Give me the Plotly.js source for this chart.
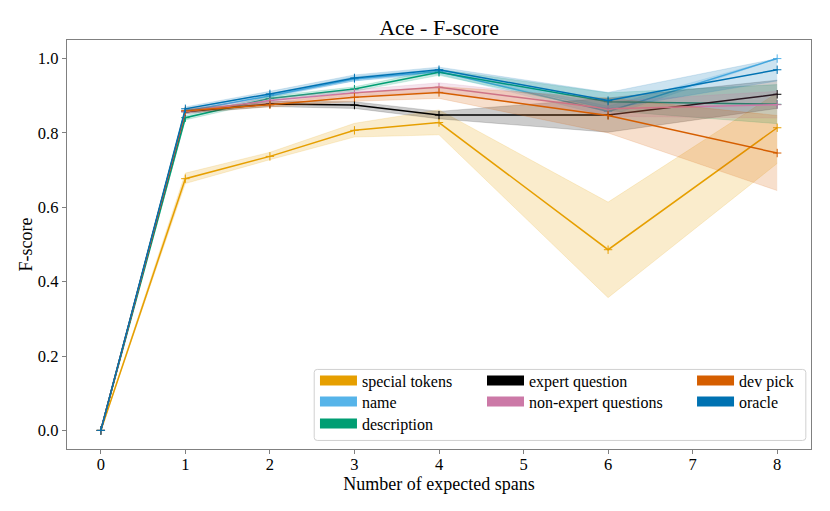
<!DOCTYPE html>
<html>
<head>
<meta charset="utf-8">
<script src="https://cdn.plot.ly/plotly-3.0.1.min.js"></script>
<style>html,body{margin:0;padding:0;background:#fff}#chart{width:830px;height:511px}</style>
</head>
<body>
<div id="chart"></div>
<script>
// ---- data ----
const spans = [0, 1, 2, 3, 4, 6, 8];
const xTicks = [0, 1, 2, 3, 4, 5, 6, 7, 8];

const specialMean = [0, 0.677, 0.737, 0.807, 0.828, 0.486, 0.814];
const specialLo   = [0, 0.664, 0.728, 0.789, 0.795, 0.357, 0.718];
const specialHi   = [0, 0.692, 0.748, 0.826, 0.862, 0.614, 0.908];

const nameMean = [0, 0.858, 0.900, 0.945, 0.965, 0.858, 1.000];
const nameLo   = [0, 0.850, 0.895, 0.940, 0.958, 0.845, 1.000];
const nameHi   = [0, 0.866, 0.905, 0.952, 0.972, 0.872, 1.000];

const descMean = [0, 0.841, 0.893, 0.918, 0.963, 0.884, 0.877];
const descLo   = [0, 0.835, 0.887, 0.912, 0.955, 0.860, 0.825];
const descHi   = [0, 0.847, 0.899, 0.924, 0.971, 0.908, 0.930];

const expertMean = [0, 0.857, 0.878, 0.875, 0.848, 0.848, 0.904];
const expertLo   = [0, 0.852, 0.871, 0.866, 0.838, 0.802, 0.866];
const expertHi   = [0, 0.862, 0.885, 0.884, 0.858, 0.894, 0.942];

const nonExpMean = [0, 0.858, 0.887, 0.908, 0.923, 0.865, 0.876];
const nonExpLo   = [0, 0.852, 0.880, 0.900, 0.911, 0.845, 0.840];
const nonExpHi   = [0, 0.864, 0.894, 0.916, 0.935, 0.885, 0.912];

const devMean = [0, 0.860, 0.876, 0.896, 0.909, 0.847, 0.746];
const devLo   = [0, 0.855, 0.870, 0.885, 0.893, 0.800, 0.645];
const devHi   = [0, 0.865, 0.882, 0.907, 0.925, 0.894, 0.847];

const oracleMean = [0, 0.865, 0.905, 0.948, 0.970, 0.887, 0.970];
const oracleLo   = [0, 0.860, 0.898, 0.940, 0.963, 0.865, 0.940];
const oracleHi   = [0, 0.870, 0.912, 0.956, 0.977, 0.909, 1.000];

const seriesNames = ["special tokens", "name", "description", "expert question", "non-expert questions", "dev pick", "oracle"];
const seriesColors = ["#E69F00", "#56B4E9", "#009E73", "#000000", "#CC79A7", "#D55E00", "#0072B2"];
const seriesRGB = ["230,159,0", "86,180,233", "0,158,115", "0,0,0", "204,121,167", "213,94,0", "0,114,178"];

const means = [specialMean, nameMean, descMean, expertMean, nonExpMean, devMean, oracleMean];
const los = [specialLo, nameLo, descLo, expertLo, nonExpLo, devLo, oracleLo];
const his = [specialHi, nameHi, descHi, expertHi, nonExpHi, devHi, oracleHi];

// legend grid: column-major, 3 rows
const legendCol = [0, 0, 0, 1, 1, 2, 2];
const legendRow = [0, 1, 2, 0, 1, 0, 1];
const legendColX = [0.3333, 0.5578, 0.8401];
const legendRowY = [0.2085, 0.1572, 0.1034];

const traces = [];
for (let i = 0; i < seriesNames.length; i++) {
  traces.push({
    x: spans, y: his[i], mode: "lines", line: {width: 0.6, color: "rgba(" + seriesRGB[i] + ",0.25)"},
    showlegend: false, hoverinfo: "skip"
  });
  traces.push({
    x: spans, y: los[i], mode: "lines", line: {width: 0.6, color: "rgba(" + seriesRGB[i] + ",0.25)"},
    fill: "tonexty", fillcolor: "rgba(" + seriesRGB[i] + ",0.2)",
    showlegend: false, hoverinfo: "skip"
  });
  traces.push({
    x: spans, y: means[i], mode: "lines+markers", name: seriesNames[i],
    line: {width: 1.5, color: seriesColors[i]},
    marker: {symbol: "cross-thin-open", size: 6, line: {width: 1, color: seriesColors[i]}, color: seriesColors[i]},
    showlegend: false
  });
}
const legendFont = {family: "Liberation Serif, Times New Roman, serif", size: 16, color: "#000"};
const layoutLegends = {};
for (let i = 0; i < seriesNames.length; i++) {
  const key = i === 0 ? "legend" : "legend" + (i + 1);
  traces.push({
    x: [null], y: [null], mode: "lines", name: seriesNames[i],
    line: {width: 11, color: seriesColors[i]},
    legend: key, showlegend: true, hoverinfo: "skip"
  });
  layoutLegends[key] = {
    bgcolor: "rgba(0,0,0,0)", borderwidth: 0, font: legendFont,
    xanchor: "left", yanchor: "top", itemwidth: 37,
    x: legendColX[legendCol[i]], y: legendRowY[legendRow[i]]
  };
}

const layout = Object.assign({
  width: 830, height: 511,
  margin: {l: 67, r: 19, t: 40, b: 62},
  paper_bgcolor: "#fff", plot_bgcolor: "#fff",
  font: {family: "Liberation Serif, Times New Roman, serif", size: 16, color: "#000"},
  title: {text: "Ace - F-score", x: 0.529, xanchor: "center", y: 0.947, yanchor: "middle",
          font: {size: 22, family: "Liberation Serif, Times New Roman, serif"}},
  xaxis: {
    range: [-0.4, 8.4], tickvals: xTicks, ticktext: xTicks.map(String),
    showgrid: false, zeroline: false, showline: true, mirror: true,
    linecolor: "#808080", linewidth: 1.3, ticks: "outside", ticklen: 4, tickcolor: "#808080",
    tickfont: {size: 16.5}, ticklabelstandoff: -4,
    title: {text: "Number of expected spans", font: {size: 18}, standoff: 0}
  },
  yaxis: {
    range: [-0.05, 1.05], tickvals: [0, 0.2, 0.4, 0.6, 0.8, 1.0],
    ticktext: ["0.0", "0.2", "0.4", "0.6", "0.8", "1.0"],
    showgrid: false, zeroline: false, showline: true, mirror: true,
    linecolor: "#808080", linewidth: 1.3, ticks: "outside", ticklen: 4, tickcolor: "#808080",
    tickfont: {size: 16.5}, title: {text: "F-score", font: {size: 18}, standoff: 0}
  },
  shapes: [{
    type: "path", xref: "x", yref: "y", layer: "below",
    path: "M 2.56 0.164 L 8.30 0.164 Q 8.339 0.164 8.339 0.156 L 8.339 -0.019 Q 8.339 -0.027 8.30 -0.027 L 2.56 -0.027 Q 2.524 -0.027 2.524 -0.019 L 2.524 0.156 Q 2.524 0.164 2.56 0.164 Z",
    line: {color: "#d0d0d0", width: 1}, fillcolor: "rgba(255,255,255,0.8)"
  }]
}, layoutLegends);

Plotly.newPlot("chart", traces, layout, {displayModeBar: false, staticPlot: true});
</script>
</body>
</html>
